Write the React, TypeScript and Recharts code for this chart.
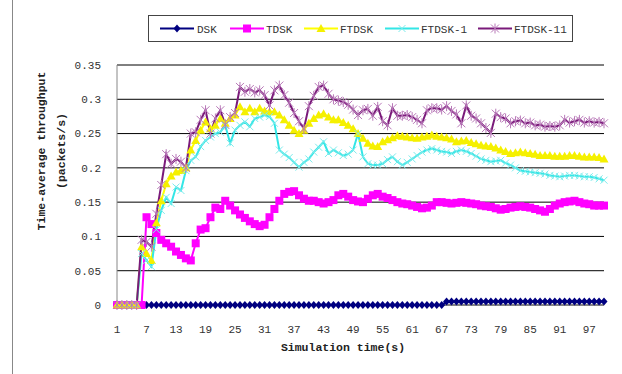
import React from 'react';
import { LineChart, Line, XAxis, YAxis, CartesianGrid } from 'recharts';

// simulation time steps 1..100
const times = [
  1, 2, 3, 4, 5, 6, 7, 8, 9, 10, 11, 12, 13, 14, 15, 16, 17, 18, 19, 20,
  21, 22, 23, 24, 25, 26, 27, 28, 29, 30, 31, 32, 33, 34, 35, 36, 37, 38, 39, 40,
  41, 42, 43, 44, 45, 46, 47, 48, 49, 50, 51, 52, 53, 54, 55, 56, 57, 58, 59, 60,
  61, 62, 63, 64, 65, 66, 67, 68, 69, 70, 71, 72, 73, 74, 75, 76, 77, 78, 79, 80,
  81, 82, 83, 84, 85, 86, 87, 88, 89, 90, 91, 92, 93, 94, 95, 96, 97, 98, 99, 100,
];

const dsk = [
  0, 0, 0, 0, 0, 0, 0, 0, 0, 0, 0, 0, 0, 0, 0, 0, 0, 0, 0, 0,
  0, 0, 0, 0, 0, 0, 0, 0, 0, 0, 0, 0, 0, 0, 0, 0, 0, 0, 0, 0,
  0, 0, 0, 0, 0, 0, 0, 0, 0, 0, 0, 0, 0, 0, 0, 0, 0, 0, 0, 0,
  0, 0, 0, 0, 0, 0, 0, 0.005, 0.005, 0.005, 0.005, 0.005, 0.005, 0.005, 0.005, 0.005, 0.005, 0.005, 0.005, 0.005,
  0.005, 0.005, 0.005, 0.005, 0.005, 0.005, 0.005, 0.005, 0.005, 0.005, 0.005, 0.005, 0.005, 0.005, 0.005, 0.005, 0.005, 0.005, 0.005, 0.005,
];

const tdsk = [
  0, 0, 0, 0, 0, 0, 0.128, 0.118, 0.105, 0.095, 0.09, 0.085, 0.078, 0.073, 0.068, 0.065, 0.09, 0.11, 0.112, 0.128,
  0.142, 0.14, 0.152, 0.145, 0.138, 0.132, 0.127, 0.122, 0.118, 0.115, 0.117, 0.128, 0.14, 0.152, 0.162, 0.165, 0.166, 0.16, 0.155, 0.152,
  0.152, 0.15, 0.148, 0.15, 0.153, 0.16, 0.162, 0.158, 0.153, 0.151, 0.15, 0.155, 0.16, 0.162, 0.158, 0.156, 0.153, 0.15, 0.148, 0.147,
  0.145, 0.143, 0.141, 0.142, 0.145, 0.15, 0.15, 0.149, 0.148, 0.149, 0.15, 0.149, 0.148, 0.147, 0.145, 0.144, 0.143, 0.141, 0.139, 0.14,
  0.142, 0.143, 0.144, 0.143, 0.142, 0.14, 0.138, 0.136, 0.14, 0.145, 0.148, 0.15, 0.151, 0.152, 0.15, 0.148, 0.147, 0.145, 0.145, 0.145,
];

const ftdsk = [
  0, 0, 0, 0, 0, 0.085, 0.075, 0.065, 0.12, 0.152, 0.177, 0.188, 0.194, 0.196, 0.2, 0.226, 0.24, 0.255, 0.267, 0.257,
  0.262, 0.272, 0.265, 0.272, 0.277, 0.289, 0.282, 0.287, 0.282, 0.287, 0.283, 0.282, 0.282, 0.277, 0.27, 0.262, 0.255, 0.25, 0.255, 0.265,
  0.272, 0.277, 0.279, 0.274, 0.27, 0.27, 0.266, 0.262, 0.257, 0.25, 0.243, 0.236, 0.232, 0.231, 0.238, 0.241, 0.244, 0.247, 0.246, 0.245,
  0.244, 0.243, 0.245, 0.246, 0.248, 0.246, 0.245, 0.244, 0.242, 0.238, 0.239, 0.24, 0.237, 0.235, 0.233, 0.232, 0.231, 0.229, 0.226, 0.224,
  0.221, 0.222, 0.223, 0.222, 0.221, 0.22, 0.218, 0.218, 0.218, 0.217, 0.217, 0.217, 0.218, 0.218, 0.217, 0.216, 0.216, 0.216, 0.215, 0.213,
];

const ftdsk1 = [
  0, 0, 0, 0, 0, 0.075, 0.065, 0.056, 0.11, 0.138, 0.157, 0.148, 0.172, 0.167, 0.196, 0.211, 0.216, 0.231, 0.24, 0.245,
  0.25, 0.252, 0.262, 0.236, 0.255, 0.262, 0.267, 0.26, 0.272, 0.274, 0.277, 0.275, 0.265, 0.226, 0.22, 0.215, 0.208, 0.201, 0.208, 0.213,
  0.223, 0.23, 0.238, 0.221, 0.226, 0.222, 0.218, 0.22, 0.226, 0.25, 0.216, 0.206, 0.204, 0.204, 0.206, 0.212, 0.216, 0.209, 0.204, 0.208,
  0.213, 0.218, 0.223, 0.226, 0.228, 0.226, 0.224, 0.223, 0.221, 0.224, 0.226, 0.224, 0.221, 0.217, 0.213, 0.211, 0.209, 0.21, 0.211, 0.207,
  0.204, 0.2, 0.196, 0.195, 0.194, 0.193, 0.192, 0.191, 0.189, 0.188, 0.187, 0.188, 0.189, 0.189, 0.188, 0.187, 0.187, 0.186, 0.184, 0.182,
];

const ftdsk11 = [
  0, 0, 0, 0, 0, 0.095, 0.092, 0.085, 0.133, 0.175, 0.22, 0.206, 0.213, 0.209, 0.2, 0.25, 0.252, 0.27, 0.284, 0.25,
  0.272, 0.284, 0.263, 0.274, 0.28, 0.318, 0.311, 0.315, 0.31, 0.313, 0.306, 0.291, 0.313, 0.32, 0.306, 0.295, 0.28, 0.268, 0.257, 0.29,
  0.305, 0.318, 0.32, 0.308, 0.3, 0.298, 0.296, 0.292, 0.285, 0.277, 0.284, 0.286, 0.276, 0.289, 0.268, 0.262, 0.287, 0.276, 0.276, 0.277,
  0.274, 0.27, 0.265, 0.284, 0.287, 0.287, 0.285, 0.29, 0.283, 0.278, 0.265, 0.291, 0.276, 0.272, 0.265, 0.258, 0.251, 0.279, 0.274, 0.272,
  0.265, 0.268, 0.269, 0.265, 0.266, 0.262, 0.263, 0.26, 0.261, 0.26, 0.262, 0.27, 0.266, 0.268, 0.27, 0.266, 0.268, 0.266, 0.267, 0.265,
];

const yTicks = [0, 0.05, 0.1, 0.15, 0.2, 0.25, 0.3, 0.35];

const seriesNames = ['DSK', 'TDSK', 'FTDSK', 'FTDSK-1', 'FTDSK-11'];

const chartData = times.map((t, i) => ({
  t: String(t),
  DSK: dsk[i],
  TDSK: tdsk[i],
  FTDSK: ftdsk[i],
  'FTDSK-1': ftdsk1[i],
  'FTDSK-11': ftdsk11[i],
}));

const FONT = '"Liberation Mono", "DejaVu Sans Mono", monospace';

// marker shapes, roughly like the old Excel ones
const Diamond = ({ cx, cy, color }: any) => (
  <path d={`M${cx},${cy - 4}L${cx + 3.5},${cy}L${cx},${cy + 4}L${cx - 3.5},${cy}Z`} fill={color} />
);
const Square = ({ cx, cy, color }: any) => (
  <rect x={cx - 4} y={cy - 4} width={8} height={8} fill={color} />
);
const Triangle = ({ cx, cy, color }: any) => (
  <path d={`M${cx},${cy - 4.5}L${cx + 4.5},${cy + 3.5}L${cx - 4.5},${cy + 3.5}Z`} fill={color} />
);
const Cross = ({ cx, cy, color }: any) => (
  <path d={`M${cx - 3.5},${cy - 3.5}L${cx + 3.5},${cy + 3.5}M${cx - 3.5},${cy + 3.5}L${cx + 3.5},${cy - 3.5}`} stroke={color} strokeWidth={1} fill="none" />
);
const Star = ({ cx, cy, color }: any) => (
  <path
    d={`M${cx - 4},${cy - 4}L${cx + 4},${cy + 4}M${cx - 4},${cy + 4}L${cx + 4},${cy - 4}M${cx},${cy - 5}L${cx},${cy + 5}`}
    stroke={color}
    strokeWidth={1}
    fill="none"
  />
);

const markerFor = (Shape: any, color: string) => (props: any) => {
  if (props.cx == null || props.cy == null) return <g key={`e-${props.index}`} />;
  return (
    <g key={`m-${props.index}`}>
      <Shape cx={props.cx} cy={props.cy} color={color} />
    </g>
  );
};

const seriesStyle: Record<string, { stroke: string; marker: any; mColor: string }> = {
  DSK: { stroke: '#000080', marker: Diamond, mColor: '#000080' },
  TDSK: { stroke: '#ff00ff', marker: Square, mColor: '#ff00ff' },
  FTDSK: { stroke: '#ffff00', marker: Triangle, mColor: '#f5f000' },
  'FTDSK-1': { stroke: '#33e6e6', marker: Cross, mColor: '#7cecec' },
  'FTDSK-11': { stroke: '#7a1a7a', marker: Star, mColor: '#b878b8' },
};

const legendPos: Record<string, { line: number; text: number }> = {
  DSK: { line: 160, text: 197 },
  TDSK: { line: 230, text: 266 },
  FTDSK: { line: 304, text: 340 },
  'FTDSK-1': { line: 385, text: 421 },
  'FTDSK-11': { line: 478, text: 514 },
};

const ChartLegend = () => (
  <svg style={{ position: 'absolute', left: 0, top: 0 }} width={622} height={50}>
    <rect x={148.5} y={15.5} width={424} height={26} fill="#fff" stroke="#444" strokeWidth={1} />
    {seriesNames.map(name => {
      const s = seriesStyle[name];
      const p = legendPos[name];
      const M = s.marker;
      return (
        <g key={name}>
          <line x1={p.line} x2={p.line + 34} y1={28.5} y2={28.5} stroke={s.stroke} strokeWidth={2} />
          <M cx={p.line + 17} cy={28.5} color={s.mColor} />
          <text x={p.text} y={32.5} fontFamily={FONT} fontSize={11} fill="#333">{name}</text>
        </g>
      );
    })}
  </svg>
);

const App: React.FC = () => {
  return (
    <div style={{ position: 'absolute', left: 0, top: 0, width: 622, height: 374, background: '#fff', overflow: 'hidden' }}>
      <div style={{ position: 'absolute', left: 12, top: 0, width: 1, height: 374, background: '#888' }} />
      <div style={{ position: 'absolute', left: 0, top: 0 }}>
        <LineChart width={622} height={374} data={chartData} margin={{ top: 65, right: 18, bottom: 39, left: 57 }}>
          <CartesianGrid vertical={false} stroke="#000" strokeWidth={1} />
          <XAxis
            dataKey="t"
            interval={5}
            height={30}
            tickLine={false}
            tickMargin={14}
            axisLine={{ stroke: '#888' }}
            tick={{ fontFamily: FONT, fontSize: 11, fill: '#333' }}
          />
          <XAxis xAxisId="top" dataKey="t" orientation="top" height={0} tick={false} tickLine={false} axisLine={{ stroke: '#888' }} />
          <YAxis
            domain={[0, 0.35]}
            ticks={yTicks}
            width={60}
            tickLine={false}
            tickMargin={10}
            axisLine={{ stroke: '#888' }}
            tick={{ fontFamily: FONT, fontSize: 11, fill: '#333' }}
          />
          <YAxis yAxisId="right" orientation="right" width={0} tick={false} tickLine={false} axisLine={{ stroke: '#888' }} />
          {seriesNames.map(name => (
            <Line
              key={name}
              dataKey={name}
              type="linear"
              stroke={seriesStyle[name].stroke}
              strokeWidth={2}
              dot={markerFor(seriesStyle[name].marker, seriesStyle[name].mColor)}
              activeDot={false}
              isAnimationActive={false}
            />
          ))}
        </LineChart>
      </div>
      <ChartLegend />
      <div
        style={{
          position: 'absolute',
          left: 343,
          top: 341,
          transform: 'translateX(-50%)',
          fontFamily: FONT,
          fontSize: 11.5,
          fontWeight: 'bold',
          color: '#222',
          whiteSpace: 'nowrap',
        }}
      >
        Simulation time(s)
      </div>
      <div
        style={{
          position: 'absolute',
          left: 52,
          top: 151,
          transform: 'translate(-50%, -50%) rotate(-90deg)',
          fontFamily: FONT,
          fontSize: 11.5,
          fontWeight: 'bold',
          color: '#222',
          whiteSpace: 'nowrap',
          textAlign: 'center',
          lineHeight: '20px',
        }}
      >
        Time-average throughput
        <br />
        (packets/s)
      </div>
    </div>
  );
};

export default App;
